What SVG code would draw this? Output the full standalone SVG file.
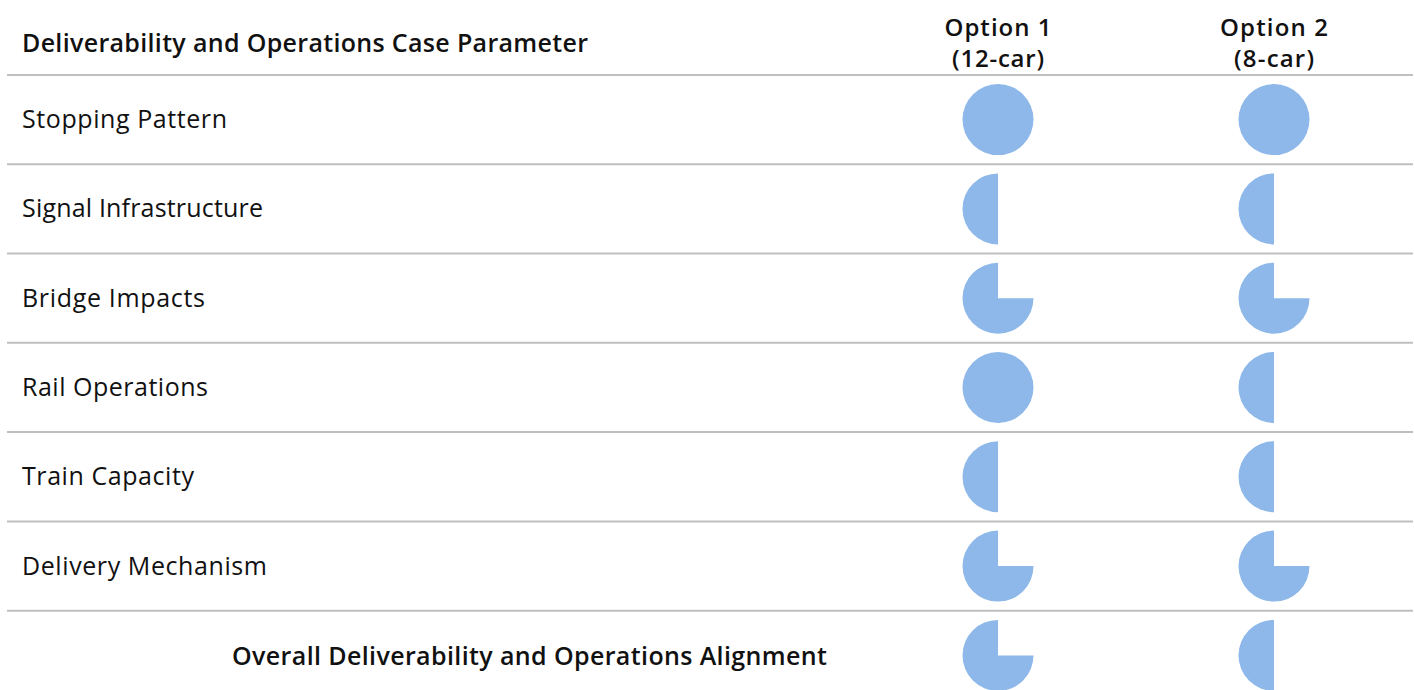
<svg xmlns="http://www.w3.org/2000/svg" xmlns:xlink="http://www.w3.org/1999/xlink" width="1414" height="690" viewBox="0 0 1414 690">
<style>
  .t { font-family: "Open Sans", "Liberation Sans", sans-serif; font-size: 25px; fill: #111111; }
  .b { font-family: "Open Sans", "Liberation Sans", sans-serif; font-size: 25px; font-weight: 600; fill: #111111; }
  .h { font-family: "Open Sans", "Liberation Sans", sans-serif; font-size: 24px; font-weight: 600; fill: #111111; text-anchor: middle; }
  .rule { stroke: #BFBFBF; stroke-width: 2; }
  .pie { fill: #8DB8E9; }
</style>
<defs>
  <circle id="full" class="pie" cx="0" cy="0" r="35.5"/>
  <path id="half" class="pie" d="M0,-35.5 A35.5,35.5 0 0 0 0,35.5 Z"/>
  <path id="q3" class="pie" d="M0,0 L35.5,0 A35.5,35.5 0 1 1 0,-35.5 Z"/>
</defs>
<rect x="0" y="0" width="1414" height="690" fill="#FFFFFF"/>
<g id="rules">
  <line class="rule" x1="7" y1="75" x2="1413" y2="75"/>
  <line class="rule" x1="7" y1="164.3" x2="1413" y2="164.3"/>
  <line class="rule" x1="7" y1="253.6" x2="1413" y2="253.6"/>
  <line class="rule" x1="7" y1="342.8" x2="1413" y2="342.8"/>
  <line class="rule" x1="7" y1="432.1" x2="1413" y2="432.1"/>
  <line class="rule" x1="7" y1="521.4" x2="1413" y2="521.4"/>
  <line class="rule" x1="7" y1="610.7" x2="1413" y2="610.7"/>
</g>
<g id="header">
  <text class="b" x="22" y="52" textLength="566">Deliverability and Operations Case Parameter</text>
  <text class="h" x="998" y="36" textLength="107">Option 1</text>
  <text class="h" x="998" y="67" textLength="92">(12-car)</text>
  <text class="h" x="1274" y="36" textLength="108">Option 2</text>
  <text class="h" x="1274" y="67" textLength="80">(8-car)</text>
</g>
<g id="row-stopping-pattern">
  <text class="t" x="22" y="128" textLength="205">Stopping Pattern</text>
  <use xlink:href="#full" x="998" y="119.6"/>
  <use xlink:href="#full" x="1274" y="119.6"/>
</g>
<g id="row-signal-infrastructure">
  <text class="t" x="22" y="217" textLength="241">Signal Infrastructure</text>
  <use xlink:href="#half" x="998" y="208.9"/>
  <use xlink:href="#half" x="1274" y="208.9"/>
</g>
<g id="row-bridge-impacts">
  <text class="t" x="22" y="306.5" textLength="183">Bridge Impacts</text>
  <use xlink:href="#q3" x="998" y="298.2"/>
  <use xlink:href="#q3" x="1274" y="298.2"/>
</g>
<g id="row-rail-operations">
  <text class="t" x="22" y="396" textLength="186">Rail Operations</text>
  <use xlink:href="#full" x="998" y="387.5"/>
  <use xlink:href="#half" x="1274" y="387.5"/>
</g>
<g id="row-train-capacity">
  <text class="t" x="22" y="485.3" textLength="172">Train Capacity</text>
  <use xlink:href="#half" x="998" y="476.8"/>
  <use xlink:href="#half" x="1274" y="476.8"/>
</g>
<g id="row-delivery-mechanism">
  <text class="t" x="22" y="574.8" textLength="245">Delivery Mechanism</text>
  <use xlink:href="#q3" x="998" y="566.1"/>
  <use xlink:href="#q3" x="1274" y="566.1"/>
</g>
<g id="row-overall">
  <text class="b" x="232" y="665" textLength="595">Overall Deliverability and Operations Alignment</text>
  <use xlink:href="#q3" x="998" y="655.4"/>
  <use xlink:href="#half" x="1274" y="655.4"/>
</g>
</svg>
